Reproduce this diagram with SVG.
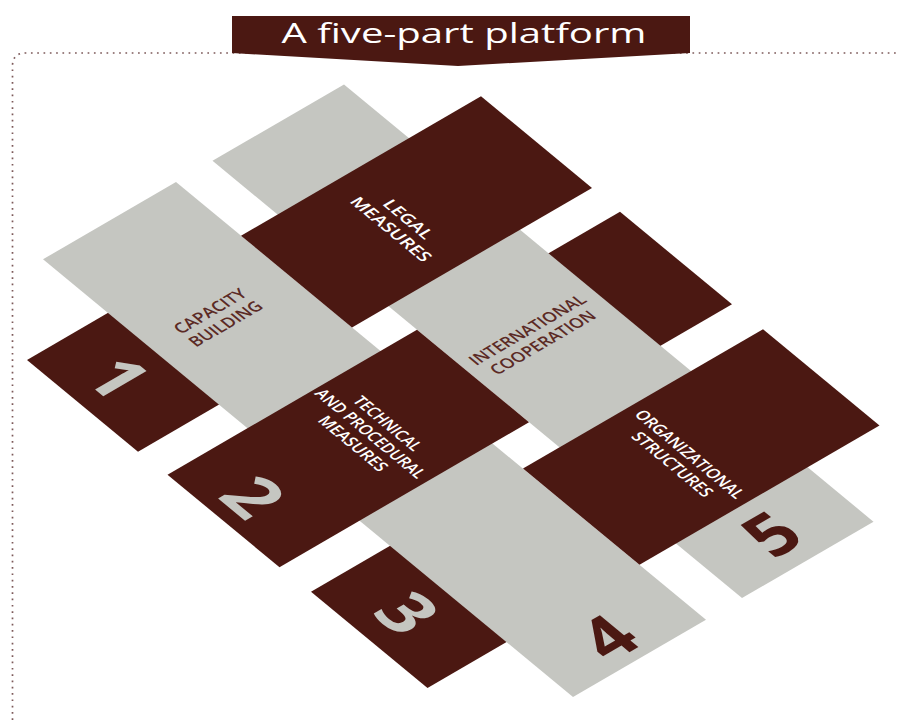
<svg xmlns="http://www.w3.org/2000/svg" width="900" height="720" viewBox="0 0 900 720">
<style>
.dark{fill:#4b1812}
.gray{fill:#c5c6c1}
.lbl{font-family:"Open Sans","Noto Sans","Liberation Sans",sans-serif;font-size:17px;font-weight:600;text-anchor:middle}
.lw{fill:#ffffff}
.ld{fill:#5b2a25}
.dig{font-family:"Open Sans","Noto Sans","Liberation Sans",sans-serif;font-weight:700;font-size:70px;text-anchor:middle}
.dg{fill:#c5c6c1}
.dd{fill:#4b1812}
</style>
<rect width="900" height="720" fill="#ffffff"/>
<g id="frame">
<path d="M12.5,720 V66 Q12.5,53 25.5,53 H900" fill="none" stroke="#7d5a5a" stroke-width="1.7" stroke-dasharray="1.7 4.6"/>
</g>
<g id="box1">
<polygon class="dark" points="27,360 112,310.6 223,402.3 138,451.7"/>
<text class="dig dg" transform="matrix(0.771 0.6369 -0.8647 0.5024 118 378)" y="25">1</text>
</g>
<g id="box3">
<polygon class="dark" points="311,591.8 397,541.8 513.5,638 427.5,688"/>
<text class="dig dg" transform="matrix(0.771 0.6369 -0.8647 0.5024 407 613)" y="25">3</text>
</g>
<g id="box-top-right">
<polygon class="dark" points="542.5,256.8 620,211.8 732,304.3 654.5,349.3"/>
</g>
<g id="capacity-building">
<polygon class="gray" points="43,259.3 176,182 706,619.8 573,697"/>
<g transform="matrix(0.8647 -0.5024 0.771 0.6369 217.75 317.5)">
<text class="lbl ld" x="0" y="-4" textLength="78" lengthAdjust="spacingAndGlyphs">CAPACITY</text>
<text class="lbl ld" x="0" y="16" textLength="79" lengthAdjust="spacingAndGlyphs">BUILDING</text>
</g>
<text class="dig dd" transform="matrix(0.8647 -0.5024 0.771 0.6369 608 637.5)" y="25">4</text>
</g>
<g id="international-cooperation">
<polygon class="gray" points="212.5,160.8 344,84.4 873.5,521.7 742,598.1"/>
<g transform="matrix(0.8647 -0.5024 0.771 0.6369 535.1 336.2)">
<text class="lbl ld" x="0" y="-4" textLength="129" lengthAdjust="spacingAndGlyphs">INTERNATIONAL</text>
<text class="lbl ld" x="0" y="16" textLength="116" lengthAdjust="spacingAndGlyphs">COOPERATION</text>
</g>
<text class="dig dd" transform="matrix(0.8647 -0.5024 0.771 0.6369 771.7 534)" y="25">5</text>
</g>
<g id="legal-measures">
<polygon class="dark" points="241,235.7 481,96.2 592,187.9 352,327.4"/>
<g transform="matrix(0.771 0.6369 -0.8647 0.5024 399.7 224.2)">
<text class="lbl lw" x="0" y="-4" textLength="56" lengthAdjust="spacingAndGlyphs">LEGAL</text>
<text class="lbl lw" x="0" y="16" textLength="96" lengthAdjust="spacingAndGlyphs">MEASURES</text>
</g>
</g>
<g id="technical-procedural-measures">
<polygon class="dark" points="167.5,474.7 417,329.7 529,422.2 279.5,567.2"/>
<g transform="matrix(0.771 0.6369 -0.8647 0.5024 370.5 433.5)">
<text class="lbl lw" x="0" y="-14" textLength="80" lengthAdjust="spacingAndGlyphs">TECHNICAL</text>
<text class="lbl lw" x="0" y="6" textLength="134" lengthAdjust="spacingAndGlyphs">AND PROCEDURAL</text>
<text class="lbl lw" x="0" y="26" textLength="81" lengthAdjust="spacingAndGlyphs">MEASURES</text>
</g>
<text class="dig dg" transform="matrix(0.771 0.6369 -0.8647 0.5024 253 497)" y="25">2</text>
</g>
<g id="organizational-structures">
<polygon class="dark" points="523,468.6 763,329.2 879.5,425.4 639.5,564.8"/>
<g transform="matrix(0.771 0.6369 -0.8647 0.5024 681.2 459.2)">
<text class="lbl lw" x="0" y="-4" textLength="133" lengthAdjust="spacingAndGlyphs">ORGANIZATIONAL</text>
<text class="lbl lw" x="0" y="16" textLength="96" lengthAdjust="spacingAndGlyphs">STRUCTURES</text>
</g>
</g>
<g id="title">
<path class="dark" d="M232,16 H690 V53 L458,66 L232,53 Z"/>
<text x="464" y="43" fill="#ffffff" font-family="Open Sans, Noto Sans, Liberation Sans, sans-serif" font-size="28" text-anchor="middle" textLength="365" lengthAdjust="spacingAndGlyphs">A five-part platform</text>
</g>
</svg>
